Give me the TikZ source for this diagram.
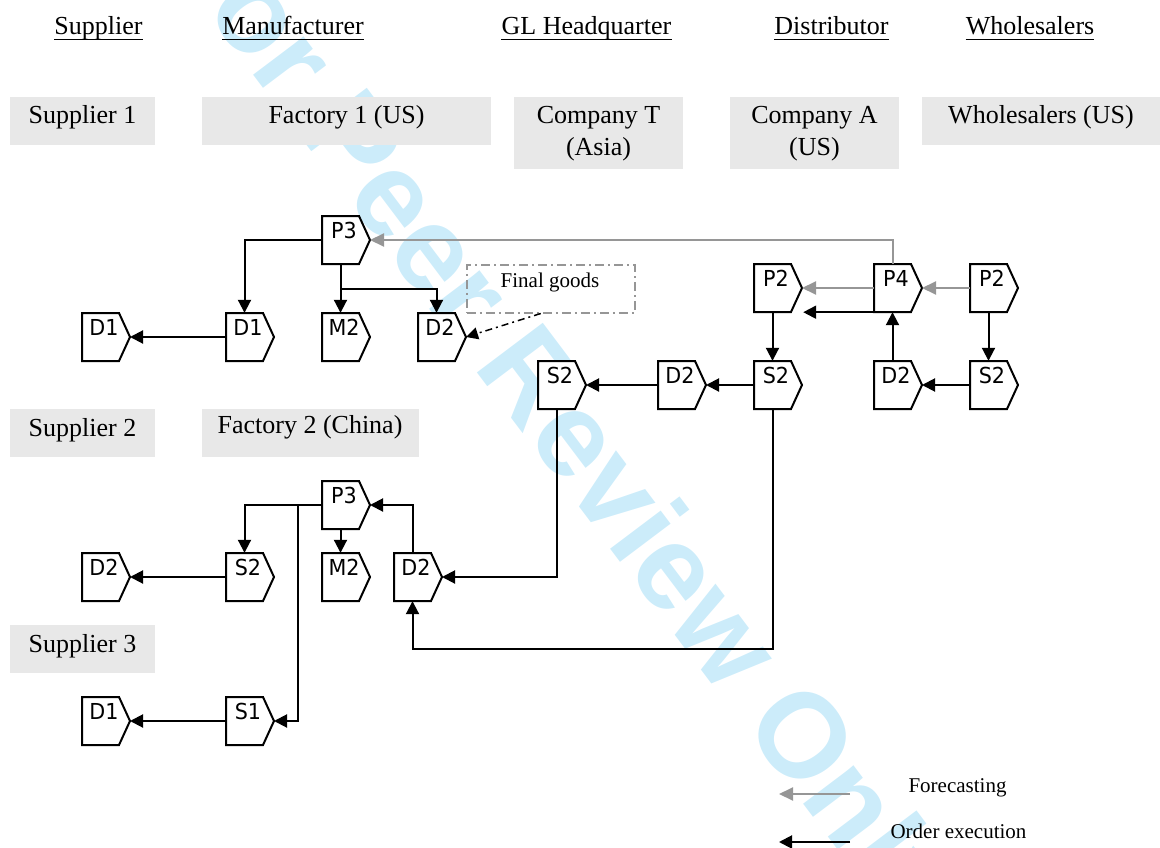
\documentclass[tikz,border=0pt]{standalone}
\usepackage{fontspec}
\setmainfont{Liberation Serif}
\newfontfamily\procfont[FakeStretch=0.94]{DejaVu Sans}
\newfontfamily\wmfont{Liberation Sans}
\usetikzlibrary{arrows.meta,calc}
\definecolor{boxgray}{RGB}{232,232,232}
\definecolor{fcgray}{RGB}{150,150,150}
\definecolor{wmblue}{RGB}{204,236,250}
\tikzset{
  procline/.style={draw=black, line width=2pt, line join=miter, fill=white},
  procbox/.style={minimum width=37pt, minimum height=48pt, inner sep=0pt, draw=none},
  proctext/.style={font=\procfont\fontsize{22}{26}\selectfont, anchor=base, inner sep=0pt},
  oarrow/.style={draw=black, line width=2pt, -{Triangle[length=13pt,width=13pt]}},
  farrow/.style={draw=fcgray, line width=2pt, -{Triangle[length=14pt,width=13pt]}},
  hdr/.style={font=\fontsize{26}{30}\selectfont, anchor=base, inner sep=0pt},
  lbl/.style={font=\fontsize{26}{30}\selectfont, anchor=base, inner sep=0pt},
  smalltext/.style={font=\fontsize{21}{25}\selectfont, anchor=base, inner sep=0pt},
  gbox/.style={fill=boxgray, draw=none, inner sep=0pt, anchor=north west},
  uline/.style={line width=1.5pt},
  fgbox/.style={draw=fcgray, line width=1.5pt, dash pattern=on 9pt off 4pt on 2pt off 4pt, inner sep=0pt, anchor=north west},
  fgarrow/.style={draw=black, line width=1.5pt, dash pattern=on 7pt off 4pt on 2pt off 4pt, -{Triangle[length=12pt,width=12pt]}},
}
\newcommand\proc[4]{%
  \draw[procline] (#2,#3) -- ++(37,0) -- ++(11,24) -- ++(-11,24) -- ++(-37,0) -- cycle;
  \node[procbox] (#1) at (#2+18.5,#3+24) {};
  \node[proctext] (#1-t) at (#2+22,#3+22) {#4};
  \coordinate (#1-tip) at (#2+48,#3+24);
}
\begin{document}
\begin{tikzpicture}[x=1pt,y=-1pt]
\useasboundingbox (0,0) rectangle (1160,848);
% watermark
\begin{scope}
\clip (0,0) rectangle (1160,848);
\node[font=\wmfont\bfseries\fontsize{120}{120}\selectfont, text=wmblue, rotate=-53, inner sep=0pt] (wm) at (556,425) {For Peer Review Only};
\end{scope}

% headers
\node[hdr] (h1) at (98.5,35) {Supplier};
\node[hdr] (h2) at (293,35) {Manufacturer};
\node[hdr] (h3) at (586.5,35) {GL Headquarter};
\node[hdr] (h4) at (831.5,35) {Distributor};
\node[hdr] (h5) at (1030,35) {Wholesalers};
\foreach \h in {h1,h2,h3,h4,h5}{
  \draw[uline] ([yshift=-4.5pt]\h.base west) -- ([yshift=-4.5pt]\h.base east);
}

% gray boxes
\node[gbox, minimum width=145pt, minimum height=48pt] (b1) at (10,97) {};
\node[gbox, minimum width=289pt, minimum height=48pt] (b2) at (202,97) {};
\node[gbox, minimum width=169pt, minimum height=72pt] (b3) at (514,97) {};
\node[gbox, minimum width=169pt, minimum height=72pt] (b4) at (730,97) {};
\node[gbox, minimum width=238pt, minimum height=48pt] (b5) at (922,97) {};
\node[gbox, minimum width=145pt, minimum height=48pt] (b6) at (10,409) {};
\node[gbox, minimum width=217pt, minimum height=48pt] (b7) at (202,409) {};
\node[gbox, minimum width=145pt, minimum height=48pt] (b8) at (10,625) {};

\node[lbl] (t1) at (82.5,124) {Supplier 1};
\node[lbl] (t2) at (346.5,124) {Factory 1 (US)};
\node[lbl] (t3a) at (598.5,124) {Company T};
\node[lbl] (t3b) at (598.5,156) {(Asia)};
\node[lbl] (t4a) at (814.5,124) {Company A};
\node[lbl] (t4b) at (814.5,156) {(US)};
\node[lbl] (t5) at (1041,124) {Wholesalers (US)};
\node[lbl] (t6) at (82.5,436) {Supplier 2};
\node[lbl] (t7) at (310,433) {Factory 2 (China)};
\node[lbl] (t8) at (82.5,652) {Supplier 3};

% process shapes - top
\proc{p3a}{322}{216}{P3}
\proc{d1a}{82}{313}{D1}
\proc{d1b}{226}{313}{D1}
\proc{m2a}{322}{313}{M2}
\proc{d2a}{418}{313}{D2}
% right
\proc{p2a}{754}{264}{P2}
\proc{p4}{874}{264}{P4}
\proc{p2b}{970}{264}{P2}
\proc{s2b}{538}{361}{S2}
\proc{d2b}{658}{361}{D2}
\proc{s2c}{754}{361}{S2}
\proc{d2c}{874}{361}{D2}
\proc{s2d}{970}{361}{S2}
% bottom
\proc{p3b}{322}{481}{P3}
\proc{d2f}{82}{553}{D2}
\proc{s2e}{226}{553}{S2}
\proc{m2b}{322}{553}{M2}
\proc{d2e}{394}{553}{D2}
\proc{d1c}{82}{697}{D1}
\proc{s1}{226}{697}{S1}

% final goods
\node[fgbox, minimum width=168pt, minimum height=48pt] (fg) at (466,264) {};
\node[smalltext] (fgt) at (550,287) {Final goods};
\draw[fgarrow] ($(fg.south)+(-10,0)$) -- (d2a-tip);

% connectors top
\draw[oarrow] (p3a.west) -| (d1b.north);
\draw[oarrow] (p3a.south) -- (m2a.north);
\draw[oarrow] ($(p3a.south)+(0,25)$) -| (d2a.north);
\draw[oarrow] (d1b.west) -- (d1a-tip);

% connectors right
\draw[farrow] (p4.north) |- (p3a-tip);
\draw[farrow] (p4.west) -- (p2a-tip);
\draw[farrow] (p2b.west) -- (p4-tip);
\draw[oarrow] (p4.south west) -- ($(p2a.south east)+(12,0)$);
\draw[oarrow] (p2a.south) -- (s2c.north);
\draw[oarrow] (d2c.north) -- (p4.south);
\draw[oarrow] (p2b.south) -- (s2d.north);
\draw[oarrow] (s2d.west) -- (d2c-tip);
\draw[oarrow] (s2c.west) -- (d2b-tip);
\draw[oarrow] (d2b.west) -- (s2b-tip);
\draw[oarrow] (s2b.south) |- (d2e-tip);
\draw[oarrow] (s2c.south) -- ++(0,240) -| (d2e.south);

% connectors bottom
\draw[oarrow] (p3b.west) -| (s2e.north);
\draw[oarrow] ($(p3b.west)+(-24,0)$) |- (s1-tip);
\draw[oarrow] (p3b.south) -- (m2b.north);
\draw[oarrow] (d2e.north) |- (p3b-tip);
\draw[oarrow] (s2e.west) -- (d2f-tip);
\draw[oarrow] (s1.west) -- (d1c-tip);

% legend
\coordinate (lf1) at (850,794);
\coordinate (lf2) at (779,794);
\coordinate (lo1) at (850,842);
\coordinate (lo2) at (779,842);
\draw[farrow] (lf1) -- (lf2);
\draw[oarrow] (lo1) -- (lo2);
\node[smalltext] (lg1) at (957.5,792) {Forecasting};
\node[smalltext] (lg2) at (958.5,838) {Order execution};
\end{tikzpicture}
\end{document}
